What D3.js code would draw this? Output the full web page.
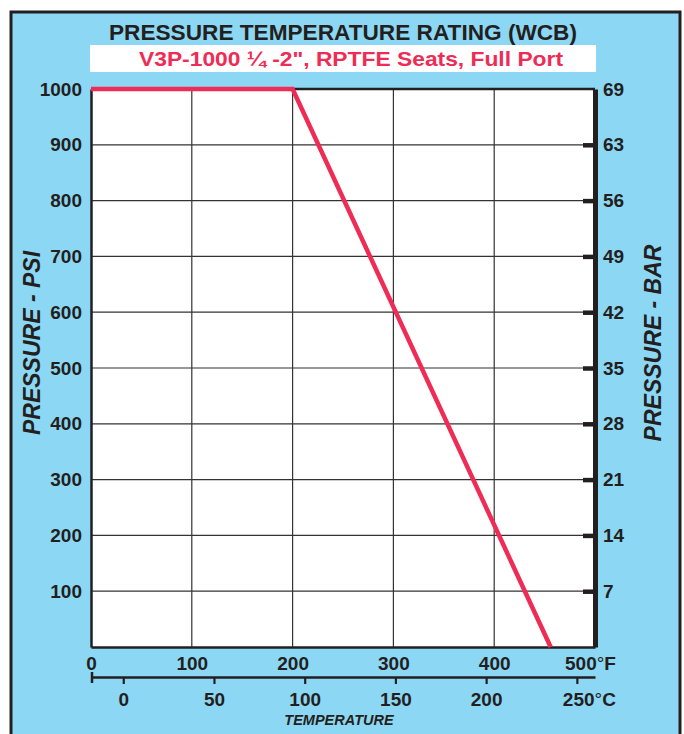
<!DOCTYPE html>
<html>
<head>
<meta charset="utf-8">
<script src="https://cdn.jsdelivr.net/npm/d3@7"></script>
<style>
  body { margin: 0; background: #fff; }
  svg { display: block; font-family: "Liberation Sans", Arial, sans-serif; }
</style>
</head>
<body>
<svg id="chart"></svg>
<script>
// rating curve (temperature in F, pressure in psi)
var tempF = [0, 200, 456];
var pressure = [1000, 1000, 0];

// axis ticks and labels
var psiTicks = [100, 200, 300, 400, 500, 600, 700, 800, 900, 1000];
var barLabels = ["7", "14", "21", "28", "35", "42", "49", "56", "63", "69"];
var fTicks = [0, 100, 200, 300, 400, 500];
var cTicks = [0, 50, 100, 150, 200, 250];

var title = "PRESSURE TEMPERATURE RATING (WCB)";
var subtitle = "V3P-1000 \u00BC -2\", RPTFE Seats, Full Port";

var red = "#ee2c55", ink = "#231f20", blue = "#8cd7f4";

var margin = {top: 89, right: 89, bottom: 87, left: 91},
    width = 684 - margin.left - margin.right,
    height = 734 - margin.top - margin.bottom;

var root = d3.select("#chart")
    .attr("width", 684)
    .attr("height", 734);

// blue panel with dark frame
root.append("rect")
    .attr("x", 11).attr("y", 12)
    .attr("width", 669).attr("height", 740)
    .style("fill", blue)
    .style("stroke", ink)
    .style("stroke-width", 3);

root.append("text")
    .attr("x", 343).attr("y", 40)
    .attr("text-anchor", "middle")
    .attr("textLength", 468)
    .attr("lengthAdjust", "spacingAndGlyphs")
    .style("font-size", "22px").style("font-weight", "bold")
    .style("fill", ink)
    .text(title);

root.append("rect")
    .attr("x", 90).attr("y", 45)
    .attr("width", 506).attr("height", 27)
    .style("fill", "#fff");

root.append("text")
    .attr("x", 351).attr("y", 66)
    .attr("text-anchor", "middle")
    .attr("textLength", 424)
    .attr("lengthAdjust", "spacingAndGlyphs")
    .style("font-size", "21px").style("font-weight", "bold")
    .style("fill", red)
    .text(subtitle);

var svg = root.append("g")
    .attr("transform", "translate(" + margin.left + "," + margin.top + ")");

var x = d3.scaleLinear().domain([0, 500]).range([0, width]);
var y = d3.scaleLinear().domain([0, 1000]).range([height, 0]);
// celsius shares the same pixels as fahrenheit
var xC = d3.scaleLinear()
    .domain([(0 - 32) * 5 / 9, (500 - 32) * 5 / 9])
    .range([0, width]);

svg.append("rect")
    .attr("width", width).attr("height", height)
    .style("fill", "#fff");

// grid
svg.append("g").selectAll("line")
    .data(fTicks.slice(1, -1))
  .enter().append("line")
    .attr("x1", function(d) { return x(d); })
    .attr("x2", function(d) { return x(d); })
    .attr("y1", 0).attr("y2", height)
    .style("stroke", "#333").style("stroke-width", 1.2);

svg.append("g").selectAll("line")
    .data(psiTicks.slice(0, -1))
  .enter().append("line")
    .attr("x1", 0).attr("x2", width)
    .attr("y1", function(d) { return y(d); })
    .attr("y2", function(d) { return y(d); })
    .style("stroke", "#333").style("stroke-width", 1.2);

// top border
svg.append("line")
    .attr("x1", 0).attr("x2", width)
    .attr("y1", 0).attr("y2", 0)
    .style("stroke", ink).style("stroke-width", 2.5);

function styleAxis(g, size) {
  g.selectAll("text")
    .style("font-family", "\"Liberation Sans\", Arial, sans-serif")
    .style("font-size", size + "px")
    .style("font-weight", "bold")
    .style("fill", ink);
  g.select(".domain").style("stroke", ink);
}

// left psi axis
var yAxis = svg.append("g")
    .call(d3.axisLeft(y).tickValues(psiTicks).tickSize(0).tickPadding(9)
      .tickFormat(d3.format("d")));
styleAxis(yAxis, 19);
yAxis.select(".domain").style("stroke-width", 2.5);

// right bar axis
var yAxis2 = svg.append("g")
    .attr("transform", "translate(" + width + ",0)")
    .call(d3.axisRight(y).tickValues(psiTicks)
      .tickSizeInner(-12).tickSizeOuter(0).tickPadding(8)
      .tickFormat(function(d, i) { return barLabels[i]; }));
styleAxis(yAxis2, 19);
yAxis2.select(".domain").style("stroke-width", 5);
yAxis2.selectAll(".tick line")
    .style("stroke", ink).style("stroke-width", 4.5)
    .style("opacity", function(d) { return d === 1000 ? 0 : 1; });

// fahrenheit axis along the bottom
var xAxis = svg.append("g")
    .attr("transform", "translate(0," + height + ")")
    .call(d3.axisBottom(x).tickValues(fTicks).tickSize(0).tickPadding(10)
      .tickFormat(d3.format("d")));
styleAxis(xAxis, 19);
xAxis.select(".domain").style("stroke-width", 2.5);
xAxis.selectAll(".tick text")
    .filter(function(d) { return d === 500; })
    .attr("dx", -5)
    .text(null)
    .call(function(t) {
      t.append("tspan").text("500");
      t.append("tspan").style("font-weight", "normal").text("\u00B0");
      t.append("tspan").text("F");
    });

// celsius axis underneath
var cAxis = svg.append("g")
    .attr("transform", "translate(0," + (height + 30) + ")")
    .call(d3.axisBottom(xC).tickValues(cTicks)
      .tickSizeInner(7).tickSizeOuter(0).tickPadding(9));
styleAxis(cAxis, 19);
cAxis.select(".domain").style("stroke-width", 2.5);
cAxis.selectAll(".tick line").style("stroke", ink).style("stroke-width", 2.2);
cAxis.selectAll(".tick text")
    .filter(function(d) { return d === 250; })
    .attr("dx", 12)
    .text(null)
    .call(function(t) {
      t.append("tspan").text("250");
      t.append("tspan").style("font-weight", "normal").text("\u00B0");
      t.append("tspan").text("C");
    });
cAxis.append("line")
    .attr("x1", 1).attr("x2", 1)
    .attr("y1", -5).attr("y2", 6)
    .style("stroke", ink).style("stroke-width", 2.5);

// rating line
var pts = tempF.map(function(t, i) { return [t, pressure[i]]; });
svg.append("path")
    .datum(pts)
    .attr("d", d3.line()
      .x(function(d) { return x(d[0]); })
      .y(function(d) { return y(d[1]); }))
    .style("fill", "none")
    .style("stroke", red)
    .style("stroke-width", 4.5);

// axis titles
root.append("text")
    .attr("transform", "translate(40,343) rotate(-90)")
    .attr("text-anchor", "middle")
    .style("font-size", "23px").style("font-weight", "bold")
    .style("font-style", "italic")
    .style("fill", ink)
    .text("PRESSURE - PSI");

root.append("text")
    .attr("transform", "translate(661,343) rotate(-90)")
    .attr("text-anchor", "middle")
    .style("font-size", "23px").style("font-weight", "bold")
    .style("font-style", "italic")
    .style("fill", ink)
    .text("PRESSURE - BAR");

root.append("text")
    .attr("x", 339).attr("y", 725)
    .attr("text-anchor", "middle")
    .style("font-size", "14.5px").style("font-weight", "bold")
    .style("font-style", "italic")
    .style("fill", ink)
    .text("TEMPERATURE");
</script>
</body>
</html>
